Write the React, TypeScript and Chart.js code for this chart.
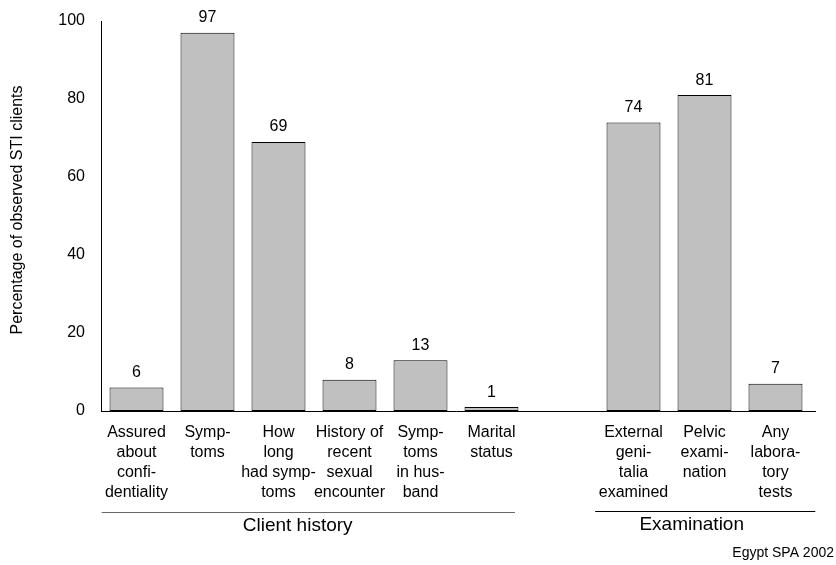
import React, { useEffect, useRef } from "react";
import { Chart, registerables } from "chart.js";

Chart.register(...registerables);

const categories: string[][] = [
  ["Assured", "about", "confi-", "dentiality"],
  ["Symp-", "toms"],
  ["How", "long", "had symp-", "toms"],
  ["History of", "recent", "sexual", "encounter"],
  ["Symp-", "toms", "in hus-", "band"],
  ["Marital", "status"],
  [""],
  ["External", "geni-", "talia", "examined"],
  ["Pelvic", "exami-", "nation"],
  ["Any", "labora-", "tory", "tests"],
];
const values: (number | null)[] = [6, 97, 69, 8, 13, 1, null, 74, 81, 7];
// group spans in category-index units (line start, line end, label centre)
const groupLabels = ["Client history", "Examination"];
const groupStart = [-0.49, 6.46];
const groupEnd = [5.33, 9.56];
const groupCentre = [2.27, 7.82];
const yTicks = [0, 20, 40, 60, 80, 100];
const yTitle = "Percentage of observed STI clients";
const source = "Egypt SPA 2002";

const FONT = "'Liberation Sans', Arial, sans-serif";
const W = 836;
const H = 565;

const overlayPlugin = {
  id: "overlay",
  afterDatasetsDraw(chart: any) {
    const ctx = chart.ctx;
    const meta = chart.getDatasetMeta(0);
    const area = chart.chartArea;
    ctx.save();
    ctx.fillStyle = "#000";
    ctx.strokeStyle = "#000";
    ctx.lineWidth = 1;
    ctx.beginPath();
    ctx.moveTo(area.right - 1, area.bottom + 0.5);
    ctx.lineTo(area.right + 5, area.bottom + 0.5);
    ctx.stroke();
    ctx.font = `16px ${FONT}`;
    ctx.textAlign = "center";
    ctx.textBaseline = "middle";
    meta.data.forEach((bar: any, i: number) => {
      const v = values[i];
      if (v == null) return;
      ctx.fillText(String(v), bar.x, bar.y - 15);
    });
    const xs = chart.scales.x;
    groupLabels.forEach((label, gi) => {
      const x0 = xs.getPixelForValue(groupStart[gi]);
      const x1 = xs.getPixelForValue(groupEnd[gi]);
      const xc = xs.getPixelForValue(groupCentre[gi]);
      const lineY = area.bottom + (gi === 0 ? 101 : 100);
      ctx.strokeStyle = gi === 0 ? "#666" : "#000";
      ctx.beginPath();
      ctx.moveTo(x0, lineY + 0.5);
      ctx.lineTo(x1, lineY + 0.5);
      ctx.stroke();
      ctx.font = `19px ${FONT}`;
      ctx.fillText(label, xc, lineY + 14);
    });
    ctx.save();
    ctx.translate(18, 210);
    ctx.rotate(-Math.PI / 2);
    ctx.font = `16px ${FONT}`;
    ctx.fillText(yTitle, 0, 0);
    ctx.restore();
    ctx.font = `14px ${FONT}`;
    ctx.textAlign = "right";
    ctx.fillText(source, W - 2, 553);
    ctx.restore();
  },
};

export default function App() {
  const ref = useRef<HTMLCanvasElement | null>(null);
  useEffect(() => {
    if (!ref.current) return;
    const chart = new Chart(ref.current, {
      type: "bar",
      data: {
        labels: categories,
        datasets: [
          {
            data: values,
            backgroundColor: "#c0c0c0",
            borderColor: "#000",
            borderWidth: 1,
            borderSkipped: false,
            categoryPercentage: 1,
            barPercentage: 0.76,
          },
        ],
      },
      options: {
        responsive: false,
        animation: false,
        maintainAspectRatio: false,
        layout: { padding: { top: 21, right: 25, left: 0, bottom: 0 } },
        plugins: {
          legend: { display: false },
          tooltip: { enabled: false },
        },
        scales: {
          x: {
            grid: { display: false, drawTicks: false },
            border: { display: true, color: "#000", width: 1 },
            ticks: {
              color: "#000",
              font: { family: FONT, size: 16, lineHeight: "20px" },
              padding: 12,
              autoSkip: false,
              maxRotation: 0,
              minRotation: 0,
            },
            afterFit: (s: any) => {
              s.height = H - 411;
              s.paddingLeft = 0;
              s.paddingRight = 0;
            },
          },
          y: {
            min: 0,
            max: 100,
            grid: { display: false, drawTicks: false },
            border: { display: true, color: "#000", width: 1 },
            afterBuildTicks: (s: any) => {
              s.ticks = yTicks.map((v) => ({ value: v }));
            },
            ticks: {
              color: "#000",
              font: { family: FONT, size: 16 },
              padding: 16,
            },
            afterFit: (s: any) => {
              s.width = 101;
              s.paddingTop = 0;
              s.paddingBottom = 0;
            },
          },
        },
      },
      plugins: [overlayPlugin],
    });
    return () => chart.destroy();
  }, []);
  return (
    <div style={{ position: "fixed", left: 0, top: 0, width: W, height: H }}>
      <canvas ref={ref} width={W} height={H} style={{ width: W, height: H, display: "block" }} />
    </div>
  );
}
